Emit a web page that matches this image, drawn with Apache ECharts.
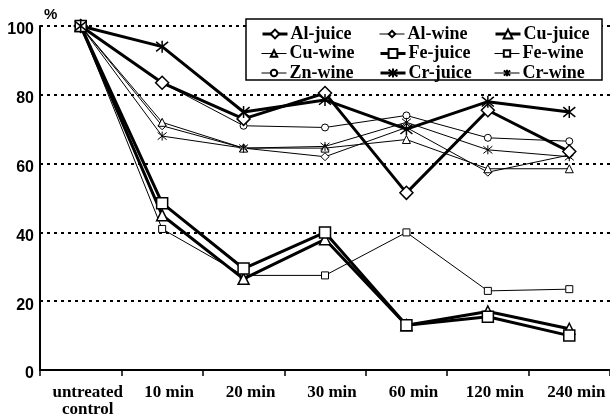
<!DOCTYPE html>
<html><head><meta charset="utf-8">
<script src="https://cdn.jsdelivr.net/npm/echarts@6/dist/echarts.min.js"></script>
<style>html,body{margin:0;padding:0;background:#fff}#c{width:610px;height:416px}</style>
</head><body><div id="c"></div>
<script>
const categories = ['untreated\ncontrol', '10 min', '20 min', '30 min', '60 min', '120 min', '240 min'];
const yTicks = [0, 20, 40, 60, 80, 100];
const alJuice = [100, 83.5, 73, 80.5, 51.5, 75.5, 63.5];
const alWine  = [100, 71, 64.5, 62, 70.5, 57.5, 62.5];
const cuJuice = [100, 45, 26.5, 38, 13, 17, 12];
const cuWine  = [100, 72, 64.5, 64.5, 67, 58.5, 58.5];
const feJuice = [100, 48.5, 29.5, 40, 13, 15.5, 10];
const feWine  = [100, 41, 27.5, 27.5, 40, 23, 23.5];
const znWine  = [100, 83.5, 71, 70.5, 74, 67.5, 66.5];
const crJuice = [100, 94, 75, 78.5, 70, 78, 75];
const crWine  = [100, 68, 64.5, 65, 72, 64, 62];

const STAR = 'path://M1,1L9,9M9,1L1,9M5,0L5,10';
const juiceSet = {};
function mk(name, data, symbol, juice, size) {
  const star = symbol === STAR;
  juiceSet[name] = juice;
  return {
    name, type: 'line', data, symbol, symbolSize: size,
    showSymbol: true, animation: false,
    lineStyle: { color: '#000', width: juice ? 3 : 1 },
    itemStyle: { color: star ? '#000' : '#fff', borderColor: '#000', borderWidth: juice ? 1.5 : 1 },
    z: juice ? 3 : 2,
    emphasis: { disabled: true }
  };
}
const series = [
  mk('Al-juice', alJuice, 'diamond', true, 13),
  mk('Al-wine', alWine, 'diamond', false, 8),
  mk('Cu-juice', cuJuice, 'triangle', true, 11),
  mk('Cu-wine', cuWine, 'triangle', false, 8),
  mk('Fe-juice', feJuice, 'rect', true, 11),
  mk('Fe-wine', feWine, 'rect', false, 7),
  mk('Zn-wine', znWine, 'circle', false, 7),
  mk('Cr-juice', crJuice, STAR, true, 12),
  mk('Cr-wine', crWine, STAR, false, 9)
];
const legendColumns = [
  ['Al-juice', 'Cu-wine', 'Zn-wine'],
  ['Al-wine', 'Fe-juice', 'Cr-juice'],
  ['Cu-juice', 'Fe-wine', 'Cr-wine']
];
const colLeft = [261, 379, 494];
const rowMid = [34, 53.5, 73];
const legTxt = { fontFamily: 'Liberation Serif', fontWeight: 'bold', fontSize: 18, color: '#000', lineHeight: 19, padding: [0,0,0,-2] };
const legends = [];
legendColumns.forEach((col, ci) => col.forEach((name, ri) => {
  const j = juiceSet[name];
  const h = j ? 11 : 8;
  legends.push({
    orient: 'horizontal', left: colLeft[ci], top: rowMid[ri] - 9.5, padding: 0,
    itemWidth: 25, itemHeight: h,
    data: [{ name, lineStyle: { width: j ? 3 : 1, color: '#000' } }],
    textStyle: legTxt, z: 6, selectedMode: false
  });
}));
const chart = echarts.init(document.getElementById('c'), null, { renderer: 'canvas' });
chart.setOption({
  backgroundColor: '#fff',
  animation: false,
  grid: { left: 40, right: 0, top: 26, bottom: 46, containLabel: false, outerBoundsMode: 'none' },
  graphic: [{ type: 'rect', shape: { x: 246, y: 19, width: 356, height: 61 }, style: { fill: '#fff', stroke: '#000', lineWidth: 1.5 }, z: 5 }],
  legend: legends,
  xAxis: {
    type: 'category', data: categories, boundaryGap: true,
    axisLine: { lineStyle: { color: '#000', width: 2 } },
    axisTick: { show: true, length: 6, lineStyle: { color: '#000', width: 1.5 } },
    axisLabel: { color: '#000', fontFamily: 'Liberation Serif', fontWeight: 'bold', fontSize: 17, lineHeight: 17, margin: 14, padding: [0,0,0,14], interval: 0 },
    splitLine: { show: false }
  },
  yAxis: {
    type: 'value', min: yTicks[0], max: yTicks[yTicks.length - 1], interval: 20,
    name: '%', nameLocation: 'end', nameGap: 4,
    nameTextStyle: { color: '#000', fontFamily: 'Liberation Sans', fontWeight: 'bold', fontSize: 15, align: 'left', padding: [0,0,0,4] },
    axisLine: { show: true, lineStyle: { color: '#000', width: 2 } },
    axisTick: { show: false },
    axisLabel: { color: '#000', fontFamily: 'Liberation Sans', fontWeight: 'bold', fontSize: 16, margin: 6, verticalAlign: 'top', padding: [-4,0,0,0] },
    splitLine: { show: true, lineStyle: { color: '#000', width: 2, type: [3, 4] } }
  },
  series
});
</script></body></html>
